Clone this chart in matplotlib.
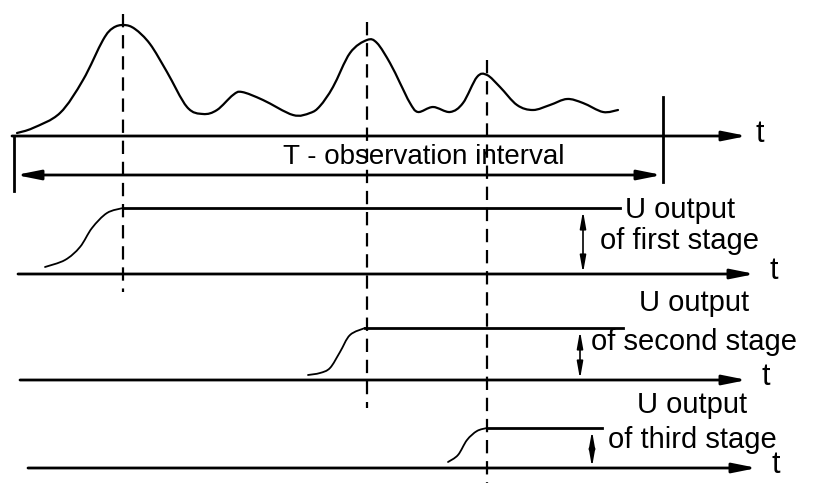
import matplotlib
matplotlib.use("Agg")
import matplotlib.pyplot as plt
from matplotlib.patches import FancyArrowPatch, PathPatch
from matplotlib.path import Path

plt.rcParams['font.family'] = ['Liberation Sans', 'DejaVu Sans']

# input signal sketch (pixel coordinates)
sig_x = [17, 33, 60, 83, 103, 113, 124, 135, 150, 167, 187, 203,
         217, 233, 242, 263, 293, 310, 320, 333, 350, 367,
         377, 390, 400, 410, 418, 433, 450, 463, 477, 487, 500, 517,
         533, 550, 567, 583, 603, 618]
sig_y = [133, 128, 113, 80, 40, 28, 25, 29, 44, 72, 107, 114,
         110, 95, 92, 100, 115, 113, 106, 87, 53, 40,
         43, 63, 83, 103, 112, 107, 112, 103, 77, 75, 87, 105,
         110, 105, 99, 103, 112, 110]

# stage output ramps
ramp1_x = [45, 65, 80, 92, 107, 123]
ramp1_y = [267, 260, 247, 228, 213, 208]
ramp2_x = [308, 320, 330, 340, 350, 365]
ramp2_y = [375, 373, 368, 352, 335, 328]
ramp3_x = [448, 458, 467, 477, 487]
ramp3_y = [462, 455, 440, 431, 428]

peaks_x = [123, 367, 487]
stage_names = ["first", "second", "third"]

fig = plt.figure(figsize=(8.14, 4.83), dpi=100)
ax = fig.add_axes([0, 0, 1, 1])
ax.set_xlim(0, 814)
ax.set_ylim(483, 0)
ax.axis('off')

k = 'black'

def smooth(xs, ys, lw):
    # Catmull-Rom through the read points, drawn as cubic Bezier segments
    pts = list(zip(xs, ys))
    verts = [pts[0]]
    codes = [Path.MOVETO]
    for i in range(len(pts) - 1):
        p0 = pts[i - 1] if i > 0 else pts[i]
        p1 = pts[i]
        p2 = pts[i + 1]
        p3 = pts[i + 2] if i + 2 < len(pts) else p2
        c1 = (p1[0] + (p2[0] - p0[0]) / 6, p1[1] + (p2[1] - p0[1]) / 6)
        c2 = (p2[0] - (p3[0] - p1[0]) / 6, p2[1] - (p3[1] - p1[1]) / 6)
        verts += [c1, c2, p2]
        codes += [Path.CURVE4] * 3
    ax.add_patch(PathPatch(Path(verts, codes), fill=False, lw=lw, color=k,
                           capstyle='round', joinstyle='round'))

def arrow(x0, y0, x1, y1, both=False, lw=2.0, hl=20, hw=4):
    st = '<|-|>' if both else '-|>'
    a = FancyArrowPatch((x0, y0), (x1, y1),
                        arrowstyle=f'{st},head_length={hl/10},head_width={hw/10}',
                        mutation_scale=7.2, lw=lw, color=k, shrinkA=0, shrinkB=0)
    ax.add_patch(a)

# signal and top time axis
smooth(sig_x, sig_y, 1.6)
arrow(12, 136, 747, 136)
ax.text(755, 134, "t", fontsize=22, va='center', ha='left')

# observation interval
ax.plot([14, 14], [136, 191], color=k, lw=2)
ax.plot([663, 663], [97, 182], color=k, lw=2)
arrow(16, 175, 662, 175, both=True, lw=2)
ax.text(283, 157, "T - observation interval", fontsize=20, va='center', ha='left')

# dashed markers at peaks
dash_tops = [14, 22, 60]
dash_bots = [292, 408, 483]
for xp, t0, t1 in zip(peaks_x, dash_tops, dash_bots):
    ax.plot([xp, xp], [t0, t1], color=k, lw=1.6, dashes=(6, 3.5))

# stage outputs
ramps = [(ramp1_x, ramp1_y), (ramp2_x, ramp2_y), (ramp3_x, ramp3_y)]
levels = [208, 328, 428]
ends = [620, 623, 602]
axes_y = [274, 380, 468]
axes_x0 = [18, 20, 28]
axes_x1 = [755, 747, 757]
uarrow_x = [583, 580, 592]
label_x = [680, 694, 692]
label_y1 = [210, 303, 405]
label_y2 = [241, 342, 440]
for i in range(3):
    rx, ry = ramps[i]
    smooth(rx, ry, 1.3)
    ax.plot([rx[-1], ends[i]], [levels[i], levels[i]], color=k, lw=2)
    arrow(axes_x0[i], axes_y[i], axes_x1[i], axes_y[i])
    ax.text(axes_x1[i] + 14, axes_y[i] - 3, "t", fontsize=22, va='center', ha='left')
    arrow(uarrow_x[i], levels[i] + 3, uarrow_x[i], axes_y[i] - 1, both=True,
          lw=1.2, hl=14, hw=2.5)
    ax.text(label_x[i], label_y1[i], "U output", fontsize=21, va='center', ha='center')
    ax.text(label_x[i], label_y2[i], "of %s stage" % stage_names[i], fontsize=21,
            va='center', ha='center')

fig.savefig("out.png", dpi=100)
